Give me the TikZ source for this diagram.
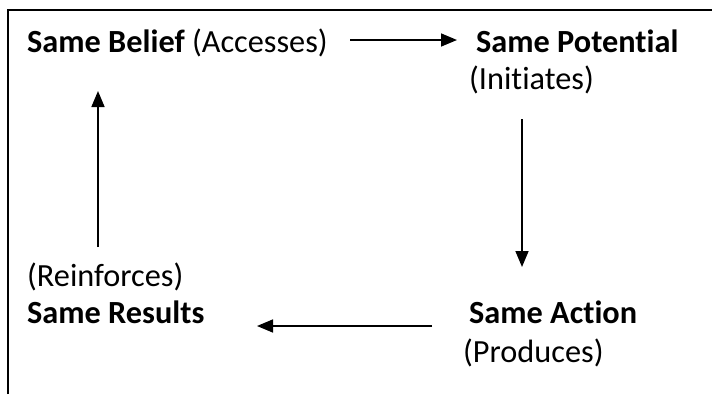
\documentclass[tikz,border=0pt]{standalone}
\usepackage{fontspec}
\setmainfont{Carlito}[Ligatures={NoCommon},RawFeature={-liga;-clig}]
\usetikzlibrary{arrows.meta}
\begin{document}
\begin{tikzpicture}[x=1pt,y=-1pt,
  lbl/.style={inner sep=0pt,anchor=base west,font=\fontsize{32.3}{38}\selectfont},
  arr/.style={line width=1.6pt,-{Triangle[length=16pt,width=13pt]}},
  frame/.style={line width=2pt}]
\useasboundingbox (0,0) rectangle (712,394);
\draw[frame] (7.5,394) -- (7.5,10) -- (712,10);
\node[lbl] (belief) at (27,52) {\textbf{Same Belief} (Accesses)};
\node[lbl] (potential) at (476,52) {\textbf{Same Potential}};
\node[lbl] (initiates) at (469,89) {(Initiates)};
\node[lbl] (action) at (469,323) {\textbf{Same Action}};
\node[lbl] (produces) at (463,362) {(Produces)};
\node[lbl] (reinforces) at (27,286) {(Reinforces)};
\node[lbl] (results) at (27,323) {\textbf{Same Results}};
\path (belief.base west) ++(323,-12) coordinate (a1s);
\path (potential.base west) ++(-19,-12) coordinate (a1e);
\path (initiates.base west) ++(53,30) coordinate (a2s);
\path (action.base west) ++(53,-56) coordinate (a2e);
\path (action.base west) ++(-37,3) coordinate (a3s);
\path (results.base west) ++(230,3) coordinate (a3e);
\path (reinforces.base west) ++(71,-39) coordinate (a4s);
\path (belief.base west) ++(71,39) coordinate (a4e);
\draw[arr] (a1s) -- (a1e);
\draw[arr] (a2s) -- (a2e);
\draw[arr] (a3s) -- (a3e);
\draw[arr] (a4s) -- (a4e);
\end{tikzpicture}
\end{document}
